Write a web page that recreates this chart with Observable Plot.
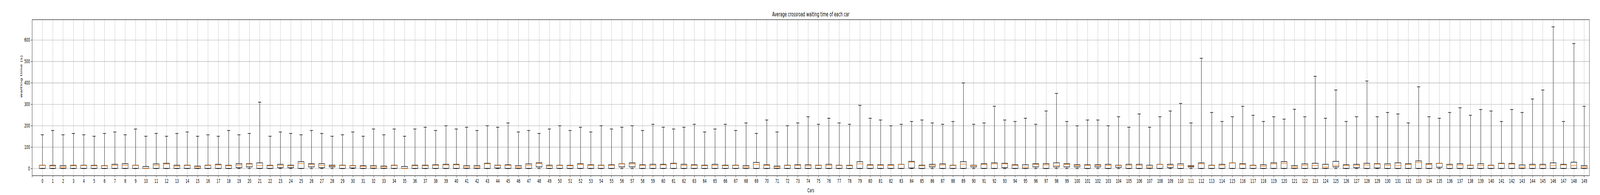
<!DOCTYPE html>
<html>
<head>
<meta charset="utf-8">
<script src="https://cdn.jsdelivr.net/npm/d3@7"></script>
<script src="https://cdn.jsdelivr.net/npm/@observablehq/plot@0.6"></script>
<style>
  html, body { margin: 0; padding: 0; background: #fff; height: 500px; overflow: hidden; }
  #chart { width: 100vw; height: 500px; overflow: hidden; }
  #chart svg { display: block; width: 100vw !important; height: 500px !important; max-width: none !important; }
</style>
</head>
<body>
<div id="chart"></div>
<script>
const title = "Average crossroad waiting time of each car";
const xLabel = "Cars";
const yLabel = "waiting time (s)";

// car ids 0..149
const cars = d3.range(150);

// upper whisker end (max)
const maxes = [
  158,178,158,164,158,151,164,171,158,185,
  151,164,151,164,171,151,158,151,178,158,
  164,310,151,171,164,158,178,164,151,158,
  171,151,185,158,185,151,185,193,178,200,
  185,193,178,200,193,213,171,178,164,185,
  200,178,193,171,200,185,193,200,178,207,
  193,185,193,207,171,185,207,178,213,164,
  227,171,200,213,242,207,235,213,207,295,
  235,227,200,207,220,227,213,207,220,400,
  207,213,291,227,220,235,207,269,351,220,
  200,227,227,200,242,193,255,193,242,269,
  304,213,515,262,220,242,291,249,220,242,
  231,277,242,431,235,367,220,242,409,242,
  262,255,213,382,242,235,262,284,249,276,
  269,220,276,262,325,367,662,220,584,291
];

// third quartile (box top)
const q3s = [
  15,14.5,13,14.5,15,14.5,13,19,22,15,
  9,21,24,15,15,11,15,19,14.5,22,
  22,26,14.5,19,15,31.5,22,22,15,15,
  13,13,13,11,15,9,15,15,17,19,
  19,13,13,24,15,17,13,21,26,15,
  15,14.5,22,17,15,17,22,26,17,19,
  19,24,19,17,15,19,15,15,13,28,
  17,11,15,17,17,15,19,15,14.5,31.5,
  17,17,17,19,33,15,19,21,15,31.5,
  15,22,26,24,17,17,22,22,26,22,
  17,17,17,19,15,19,19,15,19,19,
  21,13,26,15,19,26,22,15,17,26,
  31.5,13,21,24,19,33,17,19,24,22,
  21,26,22,35,22,24,19,22,15,22,
  15,24,23,16,19,19,26,19,29,13
];

// medians
const medians = [
  15,11.5,7,13,14.5,13,12.7,15,15,15,
  0,14.5,21,11,14.5,7,14.5,17,13,16,
  21,14.5,13,14.5,13,23.6,19,14.5,12.7,14.5,
  12.7,9.7,7,7,14.5,0,13,13,14.5,17,
  17,7,7,22,14.5,15,7,14.5,24,11,
  14.5,13,19,15,14.5,15,22,22,15,14.5,
  17,22,14.5,15,13,14.5,13,14.5,7,19,
  15,7,14.5,15,12.7,14.5,14.5,14.5,13,22,
  15,15,15,19,30,13,14.5,17,14.5,21,
  14.5,19,22,22,15,7,19,17,14.5,19,
  15,15,15,15,14.5,15,15,7,19,15,
  14.5,11,22,14.5,15,26,19,14.5,11,22,
  24,7,14.5,14.5,7,14.5,15,15,17,21,
  14.5,14.5,19,28,19,24,14.5,17,14.5,15,
  14.5,23,20.6,7,15,15,14.5,17,14.5,7
];

// first quartile (box bottom)
const q1s = [
  0,0,0,0,0,0,0,0,0,0,
  0,0,0,0,0,0,0,0,0,3.6,
  7,0,0,3.6,3.6,0,7,3.6,7,0,
  2,0,0,0,0,0,0,0,0,0,
  0,0,0,0,2,0,0,0,7,0,
  0,0,0,0,0,0,7,7,0,0,
  0,0,0,0,0,0,0,0,0,0,
  0,0,0,0,0,0,0,0,0,0,
  0,0,0,0,2,0,7,0,0,0,
  7,0,0,3.6,0,0,7,0,7,7,
  7,0,7,0,5.5,0,0,0,0,3.6,
  0,7,0,0,0,0,0,0,0,0,
  0,0,0,0,0,7,0,3.6,0,2,
  0,0,0,0,0,5.5,0,0,0,0,
  0,0,0,0,0,0,0,0,0,0
];

// lower whisker end (min)
const mins = cars.map(() => 0);

const yTicks = [0, 100, 200, 300, 400, 500, 600];
const xTickPositions = d3.range(0, 151);
const xTickLabel = p => (p === 0 ? "" : String(p - 1));

const rows = cars.map((c, i) => ({
  car: c, pos: c + 1,
  lo: mins[i], q1: q1s[i], med: medians[i], q3: q3s[i], hi: maxes[i]
}));

const BOX = 0.29, CAP = 0.15;
const lw = 1.4;

const chart = Plot.plot({
  width: 7500,
  height: 500,
  marginLeft: 150,
  marginRight: 50,
  marginTop: 50,
  marginBottom: 50,
  style: { fontFamily: "DejaVu Sans", fontSize: "13.9px", background: "#fff", color: "#000", overflow: "hidden" },
  x: { type: "linear", domain: [0, 150.5], axis: null },
  y: { domain: [-33.1, 695.1], axis: null },
  marks: [
    Plot.gridX(xTickPositions, { stroke: "#b0b0b0", strokeOpacity: 1, strokeWidth: 1.1 }),
    Plot.gridY(yTicks, { stroke: "#b0b0b0", strokeOpacity: 1, strokeWidth: 1.1 }),
    // whiskers
    Plot.ruleX(rows, { x: "pos", y1: "q3", y2: "hi", stroke: "black", strokeWidth: lw }),
    Plot.ruleX(rows, { x: "pos", y1: "lo", y2: "q1", stroke: "black", strokeWidth: lw }),
    // caps
    Plot.ruleY(rows, { y: "hi", x1: d => d.pos - CAP, x2: d => d.pos + CAP, stroke: "black", strokeWidth: lw }),
    Plot.ruleY(rows, { y: "lo", x1: d => d.pos - CAP, x2: d => d.pos + CAP, stroke: "black", strokeWidth: lw }),
    // boxes
    Plot.rect(rows, { x1: d => d.pos - BOX, x2: d => d.pos + BOX, y1: "q1", y2: "q3", fill: "none", stroke: "black", strokeWidth: lw }),
    // medians
    Plot.ruleY(rows, { y: "med", x1: d => d.pos - BOX, x2: d => d.pos + BOX, stroke: "#ff7f0e", strokeWidth: lw }),
    Plot.frame({ stroke: "black", strokeWidth: 1.1 }),
    Plot.axisX(xTickPositions, { anchor: "bottom", tickSize: 5, tickPadding: 4, tickFormat: xTickLabel, stroke: "black", strokeWidth: 1.1, label: null, fontSize: 13.9 }),
    Plot.axisY(yTicks, { anchor: "left", tickSize: 5, tickPadding: 5, tickFormat: d => String(d), stroke: "black", strokeWidth: 1.1, label: null, fontSize: 13.9 }),
    Plot.text([title], { frameAnchor: "top", dy: -14, fontSize: 16.7, lineAnchor: "middle", fill: "black" }),
    Plot.text([xLabel], { frameAnchor: "bottom", dy: 38, fontSize: 13.9, lineAnchor: "middle", fill: "black" }),
    Plot.text([yLabel], { frameAnchor: "left", dx: -51, rotate: -90, fontSize: 13.9, lineAnchor: "middle", fill: "black" })
  ]
});

// The window may be narrower than 7500px: stretch the 7500x500 drawing to fill it.
chart.setAttribute("viewBox", "0 0 7500 500");
chart.setAttribute("preserveAspectRatio", "none");
document.getElementById("chart").appendChild(chart);
</script>
</body>
</html>
